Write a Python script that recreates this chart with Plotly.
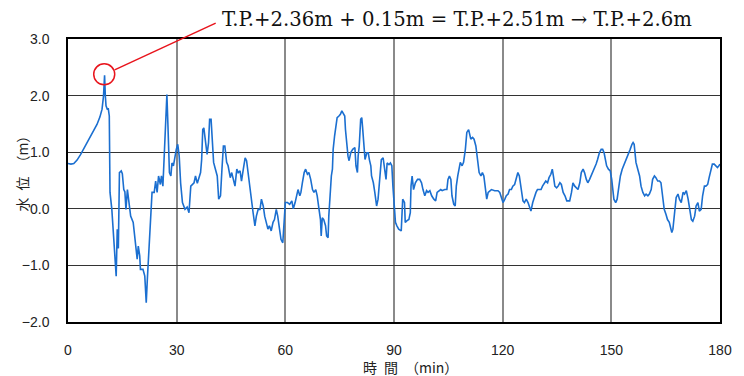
import plotly.graph_objects as go

# time (min) and water level (m)
time_min = [0, 0.8, 1.6, 2.5, 3.5, 4.5, 5.4, 6.2, 7.1, 8.0, 8.8, 9.4, 9.8, 10.1, 10.3, 10.5, 10.9, 11.1, 11.4, 11.6,
            12.1, 12.5, 12.8, 13.0, 13.3, 13.6, 13.9, 14.2, 14.7, 15.0, 15.4, 15.7, 16.0, 16.4, 16.8, 17.3, 18.0, 18.5, 19.1, 19.4,
            19.8, 20.0, 20.7, 21.2, 21.6, 21.9, 22.2, 22.5, 22.9, 23.2, 23.8, 24.2, 24.6, 25.0, 25.5, 25.8, 26.2, 26.7, 27.0, 27.3,
            27.6, 28.0, 28.4, 28.7, 29.1, 29.5, 29.9, 30.3, 30.7, 31.1, 31.6, 32.3, 32.9, 33.4, 33.9, 34.8, 35.2, 35.7, 36.2, 36.6,
            36.9, 37.2, 37.5, 37.9, 38.4, 38.8, 39.1, 39.5, 39.9, 40.2, 40.7, 41.2, 41.6, 42.1, 42.5, 42.9, 43.3, 43.8, 44.2, 44.8,
            45.2, 45.7, 46.1, 46.6, 47.0, 47.5, 47.9, 48.4, 48.9, 49.3, 49.8, 50.2, 50.7, 51.1, 51.6, 52.0, 52.5, 53.0, 53.4, 53.9,
            54.3, 54.7, 55.2, 55.6, 56.1, 56.6, 57.0, 57.5, 57.9, 58.4, 58.8, 59.3, 59.7, 60.0, 60.6, 61.2, 61.8, 62.2, 62.7, 63.1,
            63.5, 64.0, 64.3, 64.7, 65.2, 65.6, 66.1, 66.5, 67.0, 67.5, 67.9, 68.4, 68.8, 69.3, 69.7, 69.9, 70.2, 70.6, 71.1, 71.4,
            71.8, 72.0, 72.3, 72.7, 73.0, 73.2, 73.6, 74.0, 74.3, 74.8, 75.2, 75.6, 76.0, 76.4, 76.6, 77.0, 77.3, 77.6, 78.1, 78.6,
            79.0, 79.2, 79.5, 79.9, 80.1, 80.4, 80.8, 81.1, 81.3, 81.7, 82.0, 82.5, 82.9, 83.2, 83.6, 83.8, 84.3, 84.7, 85.2, 85.6,
            86.1, 86.5, 87.0, 87.5, 87.8, 88.1, 88.6, 89.0, 89.4, 89.7, 90.1, 90.4, 90.8, 91.3, 92.0, 92.4, 92.9, 93.1, 93.6, 94.1,
            94.5, 94.7, 95.0, 95.4, 95.9, 96.5, 97.1, 97.6, 98.0, 98.5, 99.0, 99.4, 99.9, 100.4, 101.0, 101.5, 101.9, 102.4, 102.9, 103.3,
            104.0, 104.6, 104.9, 105.3, 105.7, 106.0, 106.5, 106.9, 107.2, 107.6, 107.9, 108.3, 108.8, 109.2, 109.7, 110.1, 110.6, 110.9, 111.2, 111.7,
            112.1, 112.6, 113.1, 113.5, 114.0, 114.4, 114.8, 115.1, 115.6, 116.0, 116.5, 116.9, 117.8, 118.7, 119.2, 119.7, 120.1, 120.6, 121.0, 121.5,
            121.9, 122.4, 122.8, 123.3, 123.7, 124.2, 124.6, 125.1, 125.6, 126.0, 126.5, 127.0, 127.4, 127.8, 128.3, 128.8, 129.2, 129.6, 130.1, 130.6,
            131.0, 131.5, 131.9, 132.4, 132.8, 133.3, 133.7, 134.0, 134.4, 134.9, 135.3, 135.8, 136.2, 136.7, 137.2, 137.7, 138.1, 138.5, 139.0, 139.4,
            139.9, 140.3, 140.8, 141.3, 141.7, 142.2, 142.6, 143.1, 143.5, 144.0, 144.4, 144.9, 145.3, 145.8, 146.2, 146.7, 147.2, 147.6, 148.0, 148.4,
            148.7, 149.2, 149.7, 150.1, 150.4, 150.7, 151.2, 151.6, 152.1, 152.5, 153.0, 153.4, 153.9, 154.3, 154.8, 155.2, 155.7, 156.0, 156.3, 156.8,
            157.3, 157.8, 158.2, 158.7, 159.2, 159.6, 160.1, 160.5, 161.0, 161.4, 161.9, 162.3, 162.8, 163.3, 163.7, 164.2, 164.6, 165.1, 165.5, 166.0,
            166.4, 166.7, 167.0, 167.3, 167.6, 167.9, 168.4, 168.8, 169.3, 169.8, 170.2, 170.7, 171.2, 171.6, 172.1, 172.5, 173.0, 173.4, 173.9, 174.3,
            174.8, 175.2, 175.7, 176.1, 176.6, 177.0, 177.5, 177.9, 178.4, 178.8, 179.3, 179.7, 180.0]

level_m = [0.80, 0.79, 0.80, 0.86, 0.96, 1.08, 1.18, 1.29, 1.38, 1.49, 1.62, 1.76, 1.99, 2.36, 2.00, 1.82, 1.75, 1.78, 1.64, 0.29,
           -0.01, -0.36, -0.60, -0.95, -1.19, -0.36, -0.70, 0.64, 0.67, 0.62, 0.34, 0.30, -0.01, 0.34, 0.10, -0.13, -0.24, -0.54, -0.89, -0.66,
           -0.83, -1.07, -1.07, -1.19, -1.66, -1.25, -0.89, -0.60, -0.04, 0.29, 0.29, 0.49, 0.29, 0.58, 0.43, 0.58, 0.40, 1.11, 1.40, 2.02,
           1.46, 0.64, 0.58, 0.81, 0.76, 0.93, 1.05, 1.14, 0.93, 0.45, 0.11, -0.01, 0.03, -0.07, 0.40, 0.46, 0.58, 0.45, 0.58, 0.64,
           0.87, 1.40, 1.43, 1.17, 0.96, 1.17, 1.58, 1.58, 1.11, 0.82, 0.70, 0.58, 0.17, 0.23, 0.70, 1.11, 1.11, 0.82, 0.76, 0.55,
           0.64, 0.52, 0.40, 0.70, 0.64, 0.67, 0.49, 0.70, 0.90, 0.85, 0.58, 0.40, 0.05, -0.07, -0.30, -0.13, -0.01, -0.01, 0.17, 0.05,
           -0.13, -0.24, -0.36, -0.30, -0.39, -0.24, -0.19, -0.01, -0.13, -0.36, -0.54, -0.60, -0.19, 0.11, 0.11, 0.08, 0.14, 0.00, 0.11, 0.23,
           0.34, 0.23, 0.29, 0.46, 0.64, 0.70, 0.61, 0.64, 0.52, 0.34, 0.29, 0.34, 0.23, -0.01, -0.19, -0.48, -0.16, -0.19, -0.30, -0.48,
           -0.51, -0.13, 0.29, 0.58, 0.70, 1.05, 1.29, 1.52, 1.61, 1.64, 1.67, 1.73, 1.67, 1.64, 1.40, 1.11, 0.93, 0.85, 1.00, 1.05,
           1.08, 1.08, 0.76, 0.64, 0.93, 1.11, 1.58, 1.61, 1.46, 1.11, 0.87, 0.99, 0.99, 0.87, 0.76, 0.58, 0.46, 0.29, 0.05, 0.17,
           0.52, 0.87, 0.90, 0.64, 0.52, 0.81, 0.78, 0.81, 0.76, 0.40, 0.05, -0.24, -0.30, -0.36, -0.39, 0.17, 0.11, -0.24, -0.21, -0.19,
           -0.07, 0.40, 0.58, 0.34, 0.46, 0.52, 0.52, 0.46, 0.34, 0.23, 0.32, 0.29, 0.32, 0.23, 0.17, 0.14, 0.29, 0.32, 0.34, 0.32,
           0.34, 0.34, 0.52, 0.58, 0.52, 0.23, 0.08, 0.05, 0.40, 0.58, 0.70, 0.82, 0.76, 0.82, 1.05, 1.35, 1.40, 1.29, 1.23, 1.26,
           1.23, 1.11, 0.87, 0.64, 0.58, 0.64, 0.58, 0.40, 0.17, 0.29, 0.32, 0.34, 0.32, 0.32, 0.29, 0.17, 0.11, 0.17, 0.23, 0.26,
           0.34, 0.34, 0.40, 0.43, 0.52, 0.64, 0.58, 0.34, 0.14, 0.11, 0.17, 0.11, 0.05, -0.04, 0.11, 0.23, 0.29, 0.34, 0.34, 0.34,
           0.40, 0.46, 0.49, 0.46, 0.55, 0.61, 0.70, 0.58, 0.40, 0.37, 0.40, 0.46, 0.43, 0.29, 0.23, 0.14, 0.14, 0.14, 0.29, 0.46,
           0.40, 0.37, 0.34, 0.46, 0.64, 0.70, 0.64, 0.52, 0.46, 0.52, 0.58, 0.64, 0.70, 0.79, 0.87, 0.99, 1.05, 1.05, 0.99, 0.82,
           0.76, 0.70, 0.67, 0.52, 0.34, 0.17, 0.11, 0.17, 0.40, 0.58, 0.70, 0.76, 0.85, 0.90, 0.96, 1.05, 1.14, 1.17, 1.14, 0.82,
           0.70, 0.58, 0.40, 0.29, 0.23, 0.26, 0.23, 0.26, 0.34, 0.52, 0.58, 0.55, 0.49, 0.49, 0.46, 0.17, -0.01, -0.10, -0.19, -0.24,
           -0.33, -0.42, -0.36, -0.19, -0.01, 0.20, 0.26, 0.17, 0.11, 0.29, 0.26, 0.32, 0.17, -0.01, -0.19, -0.22, -0.13, 0.05, 0.11, -0.04,
           -0.01, 0.23, 0.40, 0.40, 0.43, 0.55, 0.70, 0.79, 0.79, 0.76, 0.73, 0.76, 0.79]

x_ticks = [0, 30, 60, 90, 120, 150, 180]
x_tick_labels = ["0", "30", "60", "90", "120", "150", "180"]
y_ticks = [-2, -1, 0, 1, 2, 3]
y_tick_labels = ["\u22122.0", "\u22121.0", "0.0", "1.0", "2.0", "3.0"]

peak_t = 10.0
peak_level = 2.376
note_text = "T.P.+2.36m + 0.15m = T.P.+2.51m \u2192 T.P.+2.6m"

fig = go.Figure()
fig.add_trace(go.Scatter(x=time_min, y=level_m, mode="lines",
                         line=dict(color="#1b6fd0", width=1.6), showlegend=False,
                         hoverinfo="skip"))

tick_font = dict(family="Liberation Sans, Arial, sans-serif", size=14, color="#222222")

fig.update_layout(
    width=744, height=376,
    margin=dict(l=68, r=16, t=39, b=54),
    paper_bgcolor="white", plot_bgcolor="white",
    xaxis=dict(range=[0, 180], tickvals=x_ticks, ticktext=x_tick_labels,
               showgrid=True, gridcolor="#8a8a8a", gridwidth=1.5,
               showline=True, mirror=True, linecolor="black", linewidth=1.5,
               ticks="outside", ticklen=0, tickcolor="white", ticklabelstandoff=14,
               tickfont=tick_font, zeroline=False),
    yaxis=dict(range=[-2, 3], tickvals=y_ticks, ticktext=y_tick_labels,
               showgrid=True, gridcolor="#333333", gridwidth=1,
               showline=True, mirror=True, linecolor="black", linewidth=1.5,
               ticks="outside", ticklen=0, tickcolor="white", ticklabelstandoff=14,
               tickfont=tick_font, zeroline=False),
)

cjk = "Noto Sans CJK JP, sans-serif"
fig.add_annotation(text="時\u2002間\u2002（min）", xref="paper", yref="paper", x=0.525, y=0,
                   xanchor="center", yanchor="middle", yshift=-45, showarrow=False,
                   font=dict(family=cjk, size=14, color="#222222"))
fig.add_annotation(text="水\u2002位\u2002（m）", xref="paper", yref="paper", x=0, y=0.535,
                   xanchor="center", yanchor="middle", xshift=-46, textangle=-90, showarrow=False,
                   font=dict(family=cjk, size=14, color="#222222"))

# red circle around the peak
fig.add_shape(type="circle", xref="x", yref="y", xsizemode="pixel", ysizemode="pixel",
              xanchor=peak_t, yanchor=peak_level, x0=-10.5, x1=10.5, y0=-10.5, y1=10.5,
              line=dict(color="#e8141c", width=1.5))
# leader line to the note
fig.add_shape(type="line", xref="paper", yref="paper",
              x0=0.0715, y0=0.891, x1=0.2265, y1=1.056,
              line=dict(color="#e8141c", width=1.5))
fig.add_annotation(text=note_text, xref="paper", yref="paper", x=0.233, y=1,
                   xanchor="left", yanchor="middle", yshift=20, showarrow=False,
                   font=dict(family="DejaVu Serif, serif", size=19.7, color="#111111"))

fig.write_html("out.html")
